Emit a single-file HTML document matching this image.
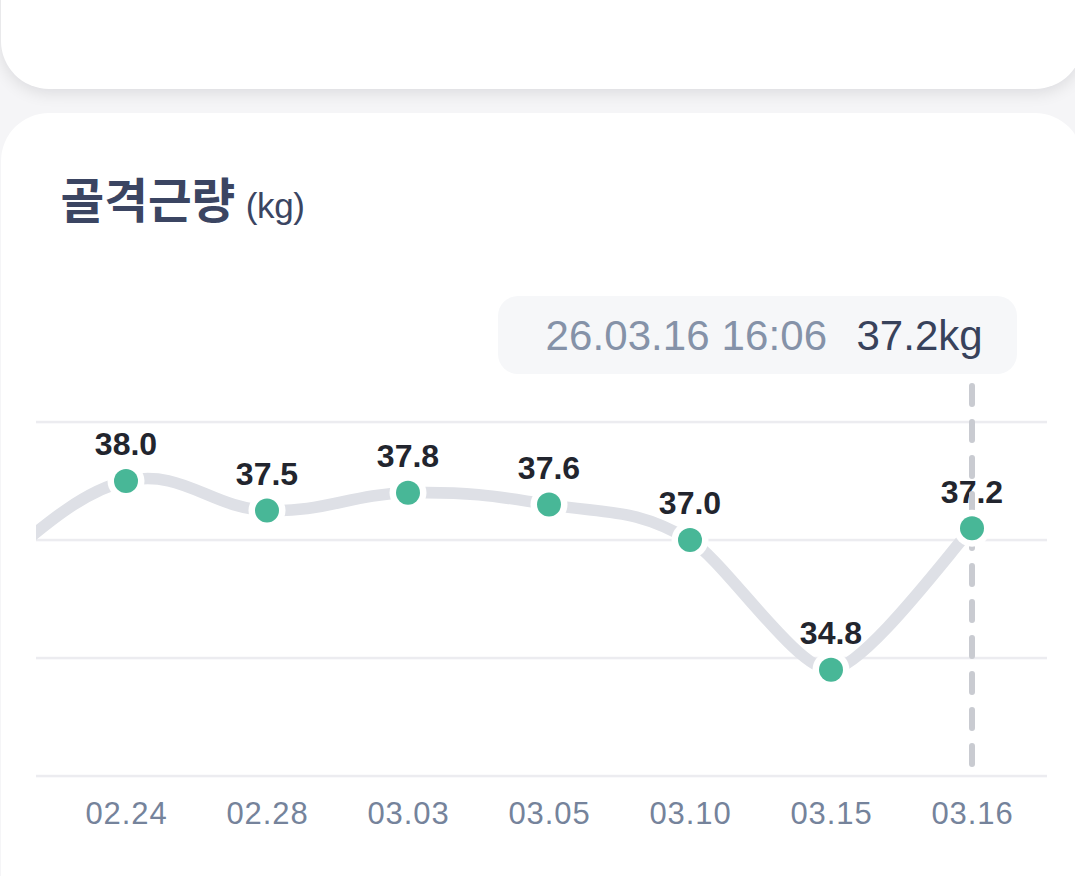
<!DOCTYPE html>
<html lang="ko"><head><meta charset="utf-8"><title>골격근량</title>
<style>
html,body{margin:0;padding:0}
body{width:1075px;height:876px;overflow:hidden;background:#f5f5f7;position:relative;font-family:"Liberation Sans","Noto Sans CJK KR",sans-serif}
.card{position:absolute;left:1px;width:1082px;background:#fff;border-radius:48px}
.c1{top:-200px;height:288.5px;box-shadow:0 4px 16px rgba(10,10,20,.105)}
.c2{top:113px;height:1000px}
.title{position:absolute;left:60.5px;top:168.8px;margin:0;font-size:47.5px;font-weight:700;color:#3b4562;line-height:66px;white-space:nowrap;letter-spacing:0}
.title span{font-size:35px;font-weight:400;letter-spacing:-.4px;margin-left:10.5px}
.tip{position:absolute;left:498px;top:296px;width:519px;height:78px;border-radius:20px;background:#f6f7f9;font-size:42px;line-height:79px;white-space:nowrap;letter-spacing:0}
.tip .t{position:absolute;left:47.5px;letter-spacing:.1px;color:#8592a8}
.tip .w{position:absolute;left:358.5px;color:#38425b}
svg{position:absolute;left:0;top:0}
.v{font:700 32px "Liberation Sans","Noto Sans CJK KR",sans-serif;fill:#22252e;text-anchor:middle;letter-spacing:0}
.d{font:400 31px "Liberation Sans","Noto Sans CJK KR",sans-serif;fill:#75839b;text-anchor:middle;letter-spacing:.9px}
</style></head><body>
<div class="card c1"></div>
<div class="card c2"></div>
<h2 class="title">골격근량<span>(kg)</span></h2>
<div class="tip"><span class="t">26.03.16 16:06</span><span class="w">37.2kg</span></div>
<svg width="1075" height="876" viewBox="0 0 1075 876">
<defs><clipPath id="cp"><rect x="36" y="380" width="1011" height="420"/></clipPath></defs>
<rect x="36" y="420.8" width="1011" height="2.5" fill="#ececf0"/><rect x="36" y="538.8" width="1011" height="2.5" fill="#ececf0"/><rect x="36" y="656.8" width="1011" height="2.5" fill="#ececf0"/><rect x="36" y="774.8" width="1011" height="2.5" fill="#ececf0"/>
<path d="M-15.0 574.0 C13.2 555.4 69.6 493.7 126.0 481.0 C182.4 468.3 210.6 508.1 267.0 510.5 C323.4 512.9 351.6 494.0 408.0 492.8 C464.4 491.6 492.6 495.2 549.0 504.6 C605.4 514.0 633.6 507.0 690.0 540.0 C723.8 559.8 797.2 671.2 831.0 669.8 C864.8 668.4 955.1 545.2 972.0 528.2" fill="none" stroke="#dee0e6" stroke-width="11.6" stroke-linecap="round" stroke-linejoin="round" clip-path="url(#cp)"/>
<text x="126.0" y="455.4" class="v">38.0</text><text x="267.0" y="484.9" class="v">37.5</text><text x="408.0" y="467.2" class="v">37.8</text><text x="549.0" y="479.0" class="v">37.6</text><text x="690.0" y="514.4" class="v">37.0</text><text x="831.0" y="644.2" class="v">34.8</text><text x="972.0" y="502.6" class="v">37.2</text>
<line x1="972" y1="386" x2="972" y2="764" stroke="#c9cbd1" stroke-width="6" stroke-linecap="round" stroke-dasharray="18 18"/>
<circle cx="126.0" cy="481.0" r="18.5" fill="#fff"/><circle cx="126.0" cy="481.0" r="12" fill="#48b797"/><circle cx="267.0" cy="510.5" r="18.5" fill="#fff"/><circle cx="267.0" cy="510.5" r="12" fill="#48b797"/><circle cx="408.0" cy="492.8" r="18.5" fill="#fff"/><circle cx="408.0" cy="492.8" r="12" fill="#48b797"/><circle cx="549.0" cy="504.6" r="18.5" fill="#fff"/><circle cx="549.0" cy="504.6" r="12" fill="#48b797"/><circle cx="690.0" cy="540.0" r="18.5" fill="#fff"/><circle cx="690.0" cy="540.0" r="12" fill="#48b797"/><circle cx="831.0" cy="669.8" r="18.5" fill="#fff"/><circle cx="831.0" cy="669.8" r="12" fill="#48b797"/><circle cx="972.0" cy="528.2" r="18.5" fill="#fff"/><circle cx="972.0" cy="528.2" r="12" fill="#48b797"/>
<text x="126.5" y="823.5" class="d">02.24</text><text x="267.5" y="823.5" class="d">02.28</text><text x="408.5" y="823.5" class="d">03.03</text><text x="549.5" y="823.5" class="d">03.05</text><text x="690.5" y="823.5" class="d">03.10</text><text x="831.5" y="823.5" class="d">03.15</text><text x="972.5" y="823.5" class="d">03.16</text>
</svg>
</body></html>
